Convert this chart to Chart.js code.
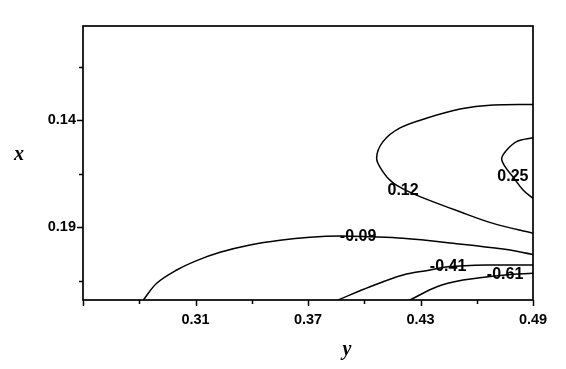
<!DOCTYPE html>
<html>
<head>
<meta charset="utf-8">
<script src="https://cdn.jsdelivr.net/npm/chart.js@4"></script>
<style>
  html,body{margin:0;padding:0;background:#fff;}
  #wrap{width:566px;height:369px;}
</style>
</head>
<body>
<div id="wrap"><canvas id="chartContour" width="566" height="369"></canvas></div>
<script>
// axis ticks (x = horizontal "y" variable, vertical axis is "x", reversed)
const xTicks = [0.25, 0.28, 0.31, 0.34, 0.37, 0.40, 0.43, 0.46, 0.49];
const xLabels = [0.31, 0.37, 0.43, 0.49];
const yTicks = [0.115, 0.14, 0.165, 0.19, 0.215];
const yLabels = [0.14, 0.19];

// contour lines
const c012 = [
  {x:0.490,y:0.1327},{x:0.4687,y:0.1330},{x:0.4511,y:0.1349},{x:0.4335,y:0.1391},
  {x:0.4191,y:0.1437},{x:0.4100,y:0.1501},{x:0.4066,y:0.1579},{x:0.4100,y:0.1642},
  {x:0.4146,y:0.1688},{x:0.4207,y:0.1722},{x:0.4297,y:0.1758},{x:0.4511,y:0.1829},
  {x:0.4687,y:0.1883},{x:0.490,y:0.1929}
];
const c025 = [
  {x:0.490,y:0.1483},{x:0.4813,y:0.1501},{x:0.4760,y:0.1540},{x:0.4733,y:0.1579},
  {x:0.4751,y:0.1618},{x:0.4793,y:0.1665},{x:0.4847,y:0.1727},{x:0.490,y:0.1766}
];
const cm009 = [
  {x:0.2822,y:0.2241},{x:0.2893,y:0.2163},{x:0.3000,y:0.2101},{x:0.3106,y:0.2057},
  {x:0.3231,y:0.2018},{x:0.3391,y:0.1984},{x:0.3551,y:0.1962},{x:0.3711,y:0.1948},
  {x:0.3871,y:0.1942},{x:0.4031,y:0.1946},{x:0.4207,y:0.1953},{x:0.4473,y:0.1976},
  {x:0.4740,y:0.2003},{x:0.490,y:0.2028}
];
const cm041 = [
  {x:0.3860,y:0.2241},{x:0.4031,y:0.2179},{x:0.4207,y:0.2124},{x:0.4351,y:0.2101},
  {x:0.4447,y:0.2086},{x:0.4655,y:0.2078},{x:0.490,y:0.2078}
];
const cm061 = [
  {x:0.4244,y:0.2241},{x:0.4388,y:0.2179},{x:0.4527,y:0.2148},{x:0.4751,y:0.2124},
  {x:0.490,y:0.2116}
];

// contour level labels and where they sit (data units)
const levelText = ['0.12', '0.25', '-0.09', '-0.41', '-0.61'];
const levelX = [0.4207, 0.4793, 0.3967, 0.4447, 0.4751];
const levelY = [0.1732, 0.1666, 0.1947, 0.2087, 0.2124];

const FONT = '"Liberation Sans", Arial, sans-serif';

function line(data){
  return { data, showLine:true, pointRadius:0, borderColor:'#000', borderWidth:1.5,
           tension:0.35, fill:false };
}

const decor = {
  id:'decor',
  afterDraw(chart){
    const ctx = chart.ctx, a = chart.chartArea;
    const xs = chart.scales.x, ys = chart.scales.y;
    ctx.save();
    ctx.strokeStyle = '#000';
    ctx.lineWidth = 1.7;
    ctx.strokeRect(a.left, a.top, a.right - a.left, a.bottom - a.top);
    ctx.lineWidth = 1.5;
    ctx.beginPath();
    xTicks.forEach(v => {
      const p = Math.round(xs.getPixelForValue(v)) + 0.5;
      const len = xLabels.includes(v) || v === 0.25 ? 6 : 4;
      ctx.moveTo(p, a.bottom); ctx.lineTo(p, a.bottom + len);
    });
    yTicks.forEach(v => {
      const p = Math.round(ys.getPixelForValue(v)) + 0.5;
      const len = yLabels.includes(v) ? 6 : 4;
      ctx.moveTo(a.left, p); ctx.lineTo(a.left - len, p);
    });
    ctx.stroke();

    // contour level labels
    ctx.fillStyle = '#000';
    ctx.font = 'bold 16px ' + FONT;
    ctx.textAlign = 'center';
    ctx.textBaseline = 'middle';
    levelText.forEach((t, i) => {
      ctx.fillText(t, xs.getPixelForValue(levelX[i]), ys.getPixelForValue(levelY[i]));
    });

    // axis titles
    ctx.font = 'italic bold 20px "Liberation Serif", "Times New Roman", serif';
    ctx.fillText('x', 19, 155);
    ctx.fillText('y', 347, 350);
    ctx.restore();
  }
};

new Chart(document.getElementById('chartContour').getContext('2d'), {
  type:'scatter',
  data:{ datasets:[ line(c012), line(c025), line(cm009), line(cm041), line(cm061) ] },
  options:{
    responsive:false,
    animation:false,
    layout:{ padding:{ top:26, right:33, left:0, bottom:0 } },
    plugins:{ legend:{ display:false }, tooltip:{ enabled:false } },
    scales:{
      x:{
        type:'linear', position:'bottom', min:0.25, max:0.49,
        afterBuildTicks: s => { s.ticks = xTicks.map(v => ({ value:v })); },
        afterFit: s => { s.height = 69; },
        grid:{ drawOnChartArea:false, drawTicks:false },
        border:{ display:false },
        ticks:{
          autoSkip:false, maxRotation:0, padding:11, color:'#000',
          font:{ family:FONT, size:14.5, weight:'bold' },
          callback: v => xLabels.some(l => Math.abs(l - v) < 1e-6) ? v.toFixed(2) : ''
        }
      },
      y:{
        type:'linear', reverse:true, min:0.09607, max:0.22411,
        afterBuildTicks: s => { s.ticks = yTicks.map(v => ({ value:v })); },
        afterFit: s => { s.width = 83; },
        grid:{ drawOnChartArea:false, drawTicks:false },
        border:{ display:false },
        ticks:{
          autoSkip:false, padding:7, color:'#000',
          font:{ family:FONT, size:14.5, weight:'bold' },
          callback: v => yLabels.some(l => Math.abs(l - v) < 1e-6) ? v.toFixed(2) : ''
        }
      }
    }
  },
  plugins:[decor]
});
</script>
</body>
</html>
